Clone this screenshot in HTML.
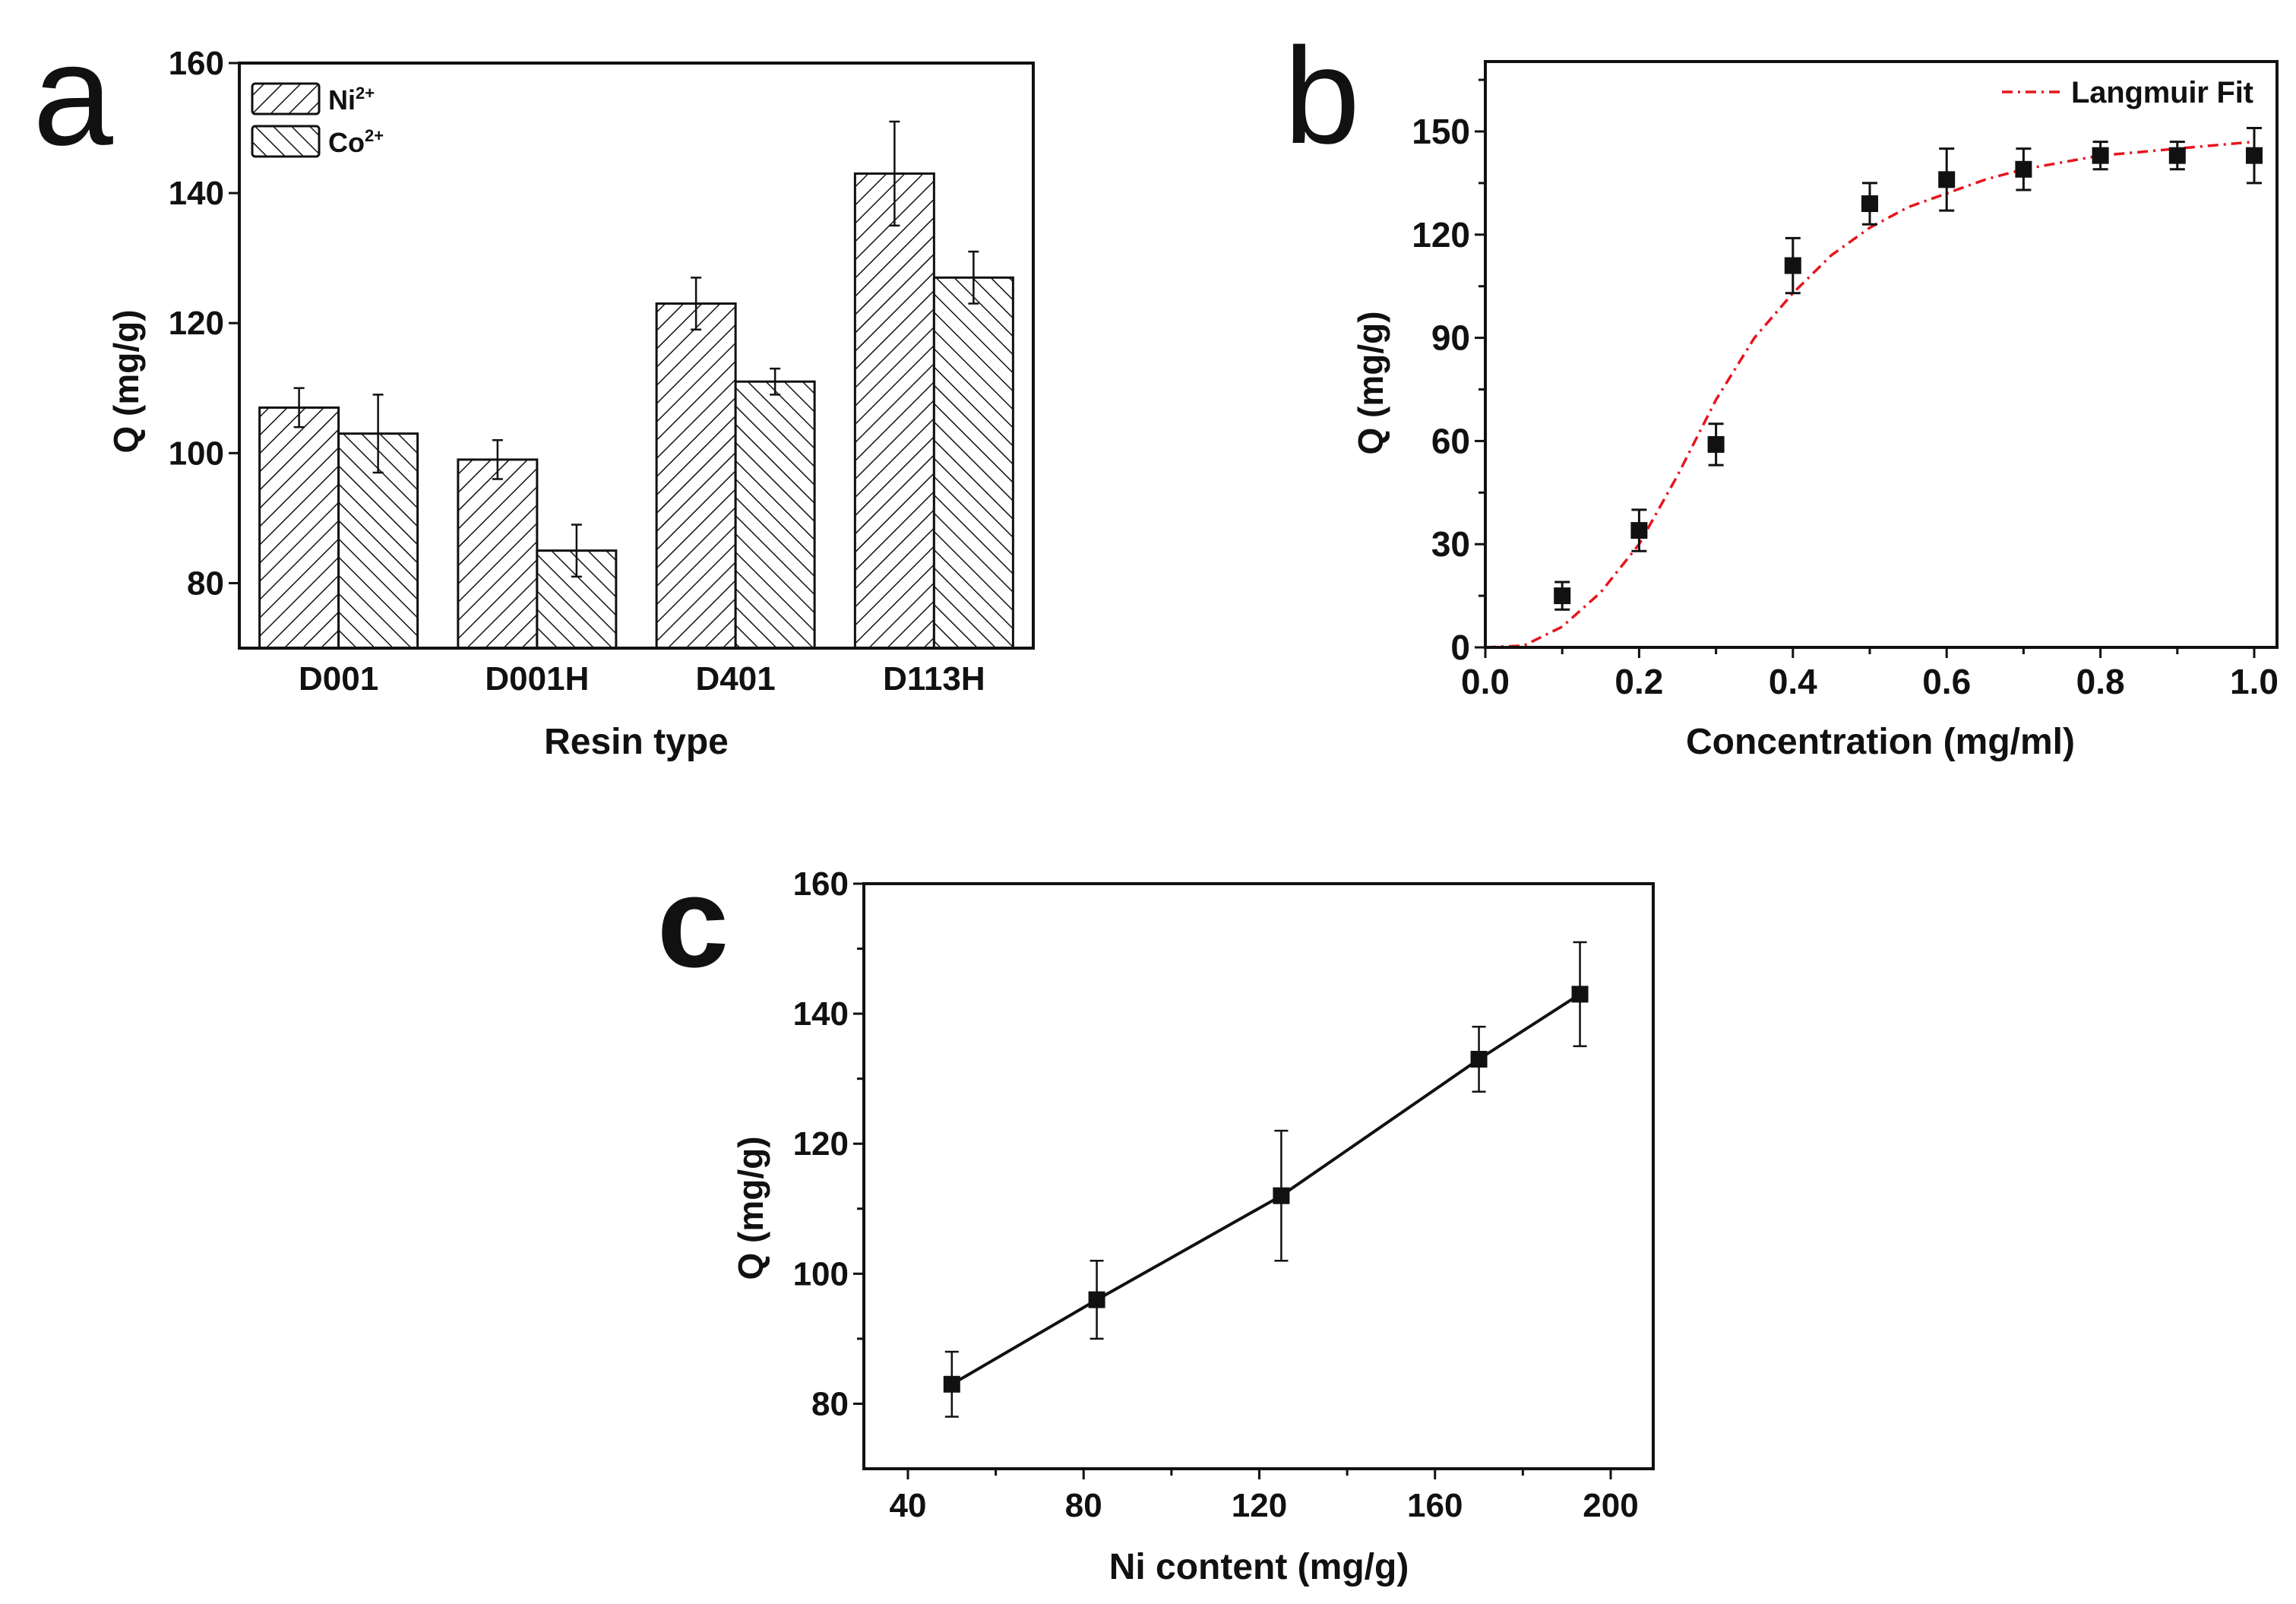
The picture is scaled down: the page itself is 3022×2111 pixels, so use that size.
<!DOCTYPE html>
<html><head><meta charset="utf-8">
<style>
html,body{margin:0;padding:0;background:#fff;}
svg{display:block;}
text{font-family:"Liberation Sans",Arial,sans-serif;font-weight:bold;fill:#111;}
</style></head>
<body>
<svg id="fig" width="3022" height="2111" viewBox="0 0 3022 2111" xmlns="http://www.w3.org/2000/svg">
<defs>
<pattern id="hatchNi" patternUnits="userSpaceOnUse" width="17" height="17" patternTransform="rotate(45)">
<rect width="17" height="17" fill="#fff"/><line x1="0" y1="0" x2="0" y2="17" stroke="#111" stroke-width="3"/>
</pattern>
<pattern id="hatchCo" patternUnits="userSpaceOnUse" width="17" height="17" patternTransform="rotate(-45)">
<rect width="17" height="17" fill="#fff"/><line x1="0" y1="0" x2="0" y2="17" stroke="#111" stroke-width="3"/>
</pattern>
</defs>
<g id="pa"></g>
<g id="pb"></g>
<g id="pc"></g>
</svg>
<script>
// Panel a data
const aCategories = ["D001","D001H","D401","D113H"];
const aNi = [107, 99, 123, 143];
const aNiErr = [3, 3, 4, 8];
const aCo = [103, 85, 111, 127];
const aCoErr = [6, 4, 2, 4];
const aYTicks = [80, 100, 120, 140, 160];
// Panel b data
const bX = [0.1,0.2,0.3,0.4,0.5,0.6,0.7,0.8,0.9,1.0];
const bY = [15,34,59,111,129,136,139,143,143,143];
const bErr = [4,6,6,8,6,9,6,4,4,8];
const bFitX = [0,0.05,0.1,0.15,0.2,0.25,0.3,0.35,0.4,0.45,0.5,0.55,0.6,0.65,0.7,0.75,0.8,0.85,0.9,0.95,1.0];
const bFitY = [0,0.5,6,16,30,50,72,90,103,114,122,128,132,136,139,141,143,144,145,146,147];
const bXTicks = [0.0,0.2,0.4,0.6,0.8,1.0];
const bYTicks = [0,30,60,90,120,150];
// Panel c data
const cX = [50,83,125,170,193];
const cY = [83,96,112,133,143];
const cErr = [5,6,10,5,8];
const cXTicks = [40,80,120,160,200];
const cYTicks = [80,100,120,140,160];

const NS="http://www.w3.org/2000/svg";
function mk(parent,tag,attrs,txt){const e=document.createElementNS(NS,tag);for(const k in attrs)e.setAttribute(k,attrs[k]);if(txt!==undefined)e.textContent=txt;parent.appendChild(e);return e;}
function lin(d0,d1,r0,r1){return v=>r0+(v-d0)/(d1-d0)*(r1-r0);}

// ---------- Panel a ----------
(function(){
const g=document.getElementById('pa');
const L=315,R=1360,T=83,B=853;
const x=lin(0.5,4.5,L,R), y=lin(70,160,B,T);
const bw=104;
let t=mk(g,'text',{x:96,y:190,'font-size':190,'text-anchor':'middle',style:'font-weight:normal'},'a');

aCategories.forEach((c,i)=>{
  const cx=x(i+1);
  let r=mk(g,'rect',{x:cx-bw,y:y(aNi[i]),width:bw,height:B-y(aNi[i]),fill:'url(#hatchNi)',stroke:'#111','stroke-width':3});
  
  r=mk(g,'rect',{x:cx,y:y(aCo[i]),width:bw,height:B-y(aCo[i]),fill:'url(#hatchCo)',stroke:'#111','stroke-width':3});
  
  [[cx-bw/2,aNi[i],aNiErr[i]],[cx+bw/2,aCo[i],aCoErr[i]]].forEach(([ex,v,e])=>{
    const eb=mk(g,'path',{d:`M${ex},${y(v+e)}V${y(v-e)}M${ex-7},${y(v+e)}h14M${ex-7},${y(v-e)}h14`,stroke:'#111','stroke-width':2.5,fill:'none'});
    
  });
  const tl=mk(g,'text',{x:cx,y:908,'font-size':44,'text-anchor':'middle'},c);
  
});
aYTicks.forEach(v=>{
  mk(g,'line',{x1:L-14,x2:L,y1:y(v),y2:y(v),stroke:'#111','stroke-width':3});
  const tl=mk(g,'text',{x:L-20,y:y(v)+15,'font-size':44,'text-anchor':'end'},v);
  
});
let f=mk(g,'rect',{x:L,y:T,width:R-L,height:B-T,fill:'none',stroke:'#111','stroke-width':4});

// legend
let lg=mk(g,'g',{});
mk(lg,'rect',{x:332,y:110,width:88,height:40,rx:4,fill:'url(#hatchNi)',stroke:'#111','stroke-width':3});
mk(lg,'rect',{x:332,y:166,width:88,height:40,rx:4,fill:'url(#hatchCo)',stroke:'#111','stroke-width':3});
let le=mk(lg,'text',{x:432,y:144,'font-size':36},'Ni');mk(le,'tspan',{dy:-14,'font-size':22},'2+');

le=mk(lg,'text',{x:432,y:200,'font-size':36},'Co');mk(le,'tspan',{dy:-14,'font-size':22},'2+');

t=mk(g,'text',{x:(L+R)/2,y:992,'font-size':48,'text-anchor':'middle'},'Resin type');

t=mk(g,'text',{x:0,y:0,'font-size':46,'text-anchor':'middle',transform:'translate(182,502) rotate(-90)'},'Q (mg/g)');

})();

// ---------- Panel b ----------
(function(){
const g=document.getElementById('pb');
const L=1955,R=2997,T=81,B=852;
const x=lin(0,1,L,2967), y=lin(0,150,B,173);
let t=mk(g,'text',{x:1740,y:188,'font-size':180,'text-anchor':'middle',style:'font-weight:normal'},'b');

bXTicks.forEach(v=>{
  mk(g,'line',{x1:x(v),x2:x(v),y1:B,y2:B+14,stroke:'#111','stroke-width':3});
  const tl=mk(g,'text',{x:x(v),y:913,'font-size':46,'text-anchor':'middle'},v.toFixed(1));
  
});
[0.1,0.3,0.5,0.7,0.9].forEach(v=>mk(g,'line',{x1:x(v),x2:x(v),y1:B,y2:B+9,stroke:'#111','stroke-width':3}));
bYTicks.forEach(v=>{
  mk(g,'line',{x1:L-14,x2:L,y1:y(v),y2:y(v),stroke:'#111','stroke-width':3});
  const tl=mk(g,'text',{x:L-20,y:y(v)+16,'font-size':46,'text-anchor':'end'},v);
  
});
[15,45,75,105,135,165].forEach(v=>mk(g,'line',{x1:L-9,x2:L,y1:y(v),y2:y(v),stroke:'#111','stroke-width':3}));
let d='';bFitX.forEach((v,i)=>{d+=(i?'L':'M')+x(v).toFixed(1)+','+y(bFitY[i]).toFixed(1);});
let fit=mk(g,'path',{d:d,fill:'none',stroke:'#e8141c','stroke-width':3.5,'stroke-dasharray':'14,7,3,7'});

bX.forEach((v,i)=>{
  const px=x(v),py=y(bY[i]),e=bErr[i];
  const eb=mk(g,'path',{d:`M${px},${y(bY[i]+e)}V${y(bY[i]-e)}M${px-10},${y(bY[i]+e)}h20M${px-10},${y(bY[i]-e)}h20`,stroke:'#111','stroke-width':3,fill:'none'});
  
  const m=mk(g,'rect',{x:px-11,y:py-11,width:22,height:22,fill:'#111'});
  
});
let f=mk(g,'rect',{x:L,y:T,width:R-L,height:B-T,fill:'none',stroke:'#111','stroke-width':4});

let lg=mk(g,'g',{});
mk(lg,'line',{x1:2635,x2:2717,y1:121,y2:121,stroke:'#e8141c','stroke-width':3.5,'stroke-dasharray':'14,7,3,7'});
t=mk(lg,'text',{x:2726,y:135,'font-size':40,textLength:240},'Langmuir Fit');

t=mk(g,'text',{x:2475,y:992,'font-size':48,'text-anchor':'middle'},'Concentration (mg/ml)');

t=mk(g,'text',{x:0,y:0,'font-size':46,'text-anchor':'middle',transform:'translate(1820,504) rotate(-90)'},'Q (mg/g)');

})();

// ---------- Panel c ----------
(function(){
const g=document.getElementById('pc');
const L=1137,R=2176,T=1163,B=1933;
const x=lin(40,200,1195,2120), y=lin(70,160,B,T);
let t=mk(g,'text',{x:912,y:1272,'font-size':170,'text-anchor':'middle'},'c');

cXTicks.forEach(v=>{
  mk(g,'line',{x1:x(v),x2:x(v),y1:B,y2:B+14,stroke:'#111','stroke-width':3});
  const tl=mk(g,'text',{x:x(v),y:1996,'font-size':44,'text-anchor':'middle'},v);
  
});
[60,100,140,180].forEach(v=>mk(g,'line',{x1:x(v),x2:x(v),y1:B,y2:B+9,stroke:'#111','stroke-width':3}));
cYTicks.forEach(v=>{
  mk(g,'line',{x1:L-14,x2:L,y1:y(v),y2:y(v),stroke:'#111','stroke-width':3});
  const tl=mk(g,'text',{x:L-20,y:y(v)+15,'font-size':44,'text-anchor':'end'},v);
  
});
[90,110,130,150].forEach(v=>mk(g,'line',{x1:L-9,x2:L,y1:y(v),y2:y(v),stroke:'#111','stroke-width':3}));
let d='';cX.forEach((v,i)=>{d+=(i?'L':'M')+x(v).toFixed(1)+','+y(cY[i]).toFixed(1);});
let ln=mk(g,'path',{d:d,fill:'none',stroke:'#111','stroke-width':4});

cX.forEach((v,i)=>{
  const px=x(v),e=cErr[i];
  const eb=mk(g,'path',{d:`M${px},${y(cY[i]+e)}V${y(cY[i]-e)}M${px-9},${y(cY[i]+e)}h18M${px-9},${y(cY[i]-e)}h18`,stroke:'#111','stroke-width':2.5,fill:'none'});
  
  const m=mk(g,'rect',{x:px-11,y:y(cY[i])-11,width:22,height:22,fill:'#111'});
  
});
let f=mk(g,'rect',{x:L,y:T,width:R-L,height:B-T,fill:'none',stroke:'#111','stroke-width':4});

t=mk(g,'text',{x:1657,y:2078,'font-size':48,'text-anchor':'middle'},'Ni content (mg/g)');

t=mk(g,'text',{x:0,y:0,'font-size':46,'text-anchor':'middle',transform:'translate(1004,1590) rotate(-90)'},'Q (mg/g)');

})();
</script>
</body></html>
